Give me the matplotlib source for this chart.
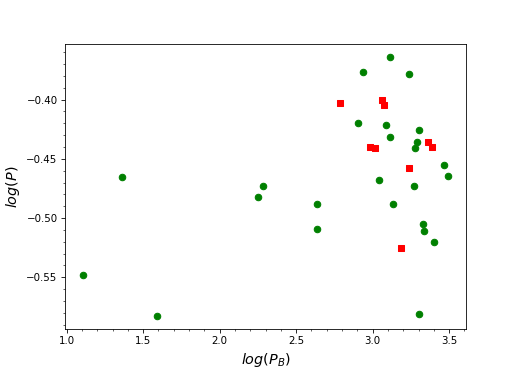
import matplotlib
matplotlib.use("Agg")
import matplotlib.pyplot as plt

# green circles
green_x = [1.107, 1.360, 1.593, 2.253, 2.286, 2.633, 2.633, 3.114, 2.936, 3.237,
           2.903, 3.086, 3.300, 3.114, 3.291, 3.276, 3.463, 3.492, 3.040, 3.273,
           3.130, 3.328, 3.335, 3.402, 3.306]
green_y = [-0.548, -0.4656, -0.583, -0.4819, -0.473, -0.4878, -0.509, -0.3643, -0.377, -0.378,
           -0.4197, -0.4217, -0.4253, -0.4313, -0.436, -0.4405, -0.4549, -0.4645, -0.4681, -0.473,
           -0.4884, -0.505, -0.5106, -0.520, -0.5806]

# red squares
red_x = [2.785, 3.064, 3.075, 2.984, 3.014, 3.363, 3.385, 3.239, 3.188]
red_y = [-0.4031, -0.4006, -0.4042, -0.4397, -0.4411, -0.4358, -0.4397, -0.4577, -0.5253]

fig, ax = plt.subplots(figsize=(7, 5), dpi=74)
ax.scatter(green_x, green_y, c="green", marker="o", s=40)
ax.scatter(red_x, red_y, c="red", marker="s", s=40)
ax.set_xlabel(r"$log(P_B)$", fontsize=14)
ax.set_ylabel(r"$log(P)$", fontsize=14)
ax.minorticks_on()
fig.savefig("out.png", dpi=74)
